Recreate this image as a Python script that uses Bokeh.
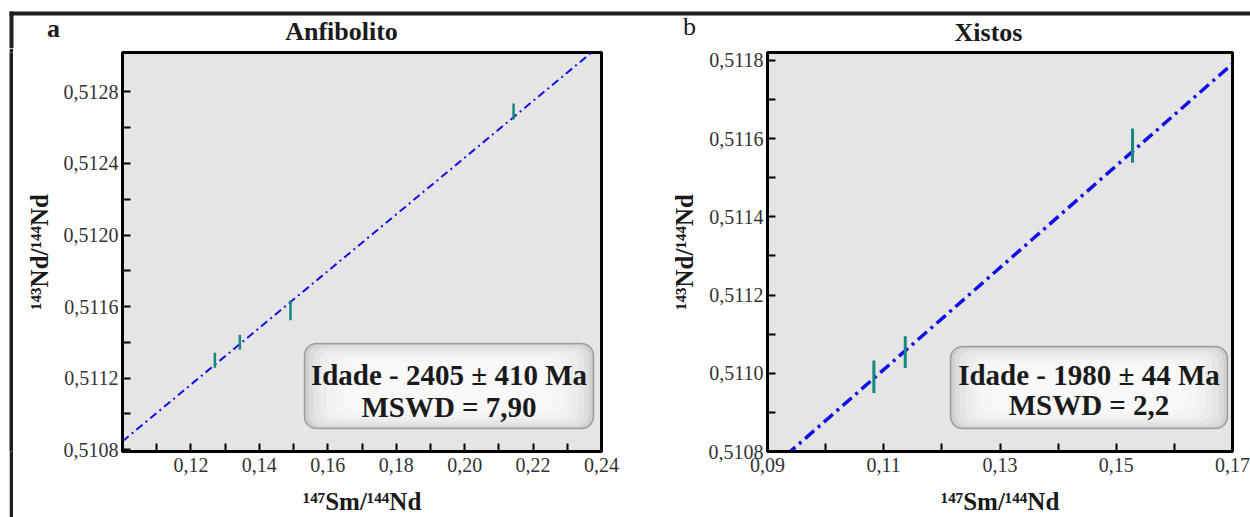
from bokeh.plotting import figure
from bokeh.layouts import row, column
from bokeh.models import (FixedTicker, CustomJSTickFormatter, Label, BoxAnnotation,
                          Range1d, Spacer)
from bokeh.core.properties import value
from bokeh.embed import file_html
from bokeh.resources import INLINE

# ---------------- data: panel a (Anfibolito) ----------------
a_sm_nd = [0.1270, 0.1343, 0.1491, 0.2143]
a_nd_nd = [0.51130, 0.51140, 0.51158, 0.51269]
a_err = [0.000042, 0.000042, 0.000056, 0.000045]
a_intercept = 0.509262
a_slope = 0.01585
a_xlim = [0.10, 0.24]
a_ylim = [0.51079, 0.51302]
a_xticks = [0.12, 0.14, 0.16, 0.18, 0.20, 0.22, 0.24]
a_xlabels = ["0,12", "0,14", "0,16", "0,18", "0,20", "0,22", "0,24"]
a_xminor = [0.11, 0.13, 0.15, 0.17, 0.19, 0.21, 0.23]
a_yticks = [0.5108, 0.5112, 0.5116, 0.5120, 0.5124, 0.5128]
a_ylabels = ["0,5108", "0,5112", "0,5116", "0,5120", "0,5124", "0,5128"]
a_yminor = [0.5110, 0.5114, 0.5118, 0.5122, 0.5126]
a_title = "Anfibolito"
a_tag = "a"
a_box = ["Idade - 2405 ± 410 Ma", "MSWD = 7,90"]

# ---------------- data: panel b (Xistos) ----------------
b_sm_nd = [0.1083, 0.1137, 0.1528]
b_nd_nd = [0.510991, 0.511054, 0.511582]
b_err = [0.0000415, 0.0000405, 0.000044]
b_intercept = 0.509576
b_slope = 0.01303
b_xlim = [0.09, 0.17]
b_ylim = [0.5108, 0.51182]
b_xticks = [0.09, 0.11, 0.13, 0.15, 0.17]
b_xlabels = ["0,09", "0,11", "0,13", "0,15", "0,17"]
b_xminor = [0.10, 0.12, 0.14, 0.16]
b_yticks = [0.5108, 0.5110, 0.5112, 0.5114, 0.5116, 0.5118]
b_ylabels = ["0,5108", "0,5110", "0,5112", "0,5114", "0,5116", "0,5118"]
b_yminor = [0.5109, 0.5111, 0.5113, 0.5115, 0.5117]
b_title = "Xistos"
b_tag = "b"
b_box = ["Idade - 1980 ± 44 Ma", "MSWD = 2,2"]

x_axis_label = "¹⁴⁷Sm/¹⁴⁴Nd"
y_axis_label = "¹⁴³Nd/¹⁴⁴Nd"

SERIF = "Liberation Serif"
INK = "#1a1a1a"
RULE = "#231d1d"
W, H = 1250, 517
TOP_H = 48      # height of the heading strip
RULE_X0, RULE_X1 = 9, 13   # left page rule
FMT_CODE = """
for (let i = 0; i < tvals.length; i++) {
  if (Math.abs(tvals[i] - tick) < 1e-9) { return tlabels[i]; }
}
return '';
"""


# heading strip: page rule, panel tags and titles
top = figure(width=W, height=TOP_H, output_backend="svg", toolbar_location=None,
             x_range=Range1d(0, W), y_range=Range1d(TOP_H, 0),
             x_axis_location=None, y_axis_location=None, min_border=0, title=None)
top.grid.visible = False
top.outline_line_color = None
top.background_fill_color = "white"
top.border_fill_color = "white"
top.quad(left=[RULE_X0, RULE_X0], right=[W, RULE_X1], top=[11, 11], bottom=[15, TOP_H],
         fill_color=RULE, line_color=None)
for txt, cx, cy, style in ((a_tag, 53, 28, "bold"), (a_title, 341, 31, "bold"),
                           (b_tag, 689, 26, "normal"), (b_title, 988, 32, "bold")):
    top.text(x=[cx], y=[cy], text=[txt], text_font=value(SERIF), text_font_style=style,
             text_font_size="26px", text_align="center", text_baseline="middle",
             text_color=INK)

# left page rule: a thin, fully dark figure
rule = figure(width=RULE_X1 - RULE_X0, height=H - TOP_H, output_backend="svg",
              toolbar_location=None, x_axis_location=None, y_axis_location=None,
              min_border=0, title=None)
rule.grid.visible = False
rule.outline_line_color = None
rule.background_fill_color = RULE
rule.border_fill_color = RULE
rule_pad = Spacer(width=RULE_X0, height=H - TOP_H)


def make_panel(xs, ys, errs, intercept, slope, xlim, ylim, xt, xl, xm, yt, yl, ym,
               box_lines, geo):
    width = geo["x1"] - geo["x0"]
    height = H - TOP_H
    p = figure(width=width, height=height, output_backend="svg", toolbar_location=None,
               x_range=Range1d(*xlim), y_range=Range1d(*ylim), title=None,
               min_border_left=geo["fl"] - geo["x0"], min_border_right=geo["x1"] - geo["fr"],
               min_border_top=geo["ft"] - TOP_H, min_border_bottom=H - geo["fb"])
    p.background_fill_color = "#e5e5e5"
    p.border_fill_color = "white"
    p.outline_line_color = "black"
    p.outline_line_width = 3
    p.grid.visible = False

    p.xaxis.ticker = FixedTicker(ticks=xt, minor_ticks=xm)
    p.yaxis.ticker = FixedTicker(ticks=yt, minor_ticks=ym)
    p.xaxis.formatter = CustomJSTickFormatter(args=dict(tvals=xt, tlabels=xl), code=FMT_CODE)
    p.yaxis.formatter = CustomJSTickFormatter(args=dict(tvals=yt, tlabels=yl), code=FMT_CODE)
    for ax in (p.xaxis, p.yaxis):
        ax.axis_line_color = "black"
        ax.axis_line_width = 3
        ax.major_tick_in = 8
        ax.major_tick_out = 0
        ax.minor_tick_in = 8
        ax.minor_tick_out = 0
        ax.major_tick_line_width = 2
        ax.minor_tick_line_width = 2
        ax.major_tick_line_color = "black"
        ax.minor_tick_line_color = "black"
        ax.major_label_text_font = SERIF
        ax.major_label_text_font_size = "20px"
        ax.major_label_text_color = "#333333"
        ax.axis_label_text_font = SERIF
        ax.axis_label_text_font_style = "bold"
        ax.axis_label_text_font_size = "25px"
        ax.axis_label_text_color = INK
    p.xaxis.major_label_standoff = 6
    p.yaxis.major_label_standoff = 4
    p.xaxis.axis_label = x_axis_label
    p.yaxis.axis_label = y_axis_label
    p.xaxis.axis_label_standoff = 13
    p.yaxis.axis_label_standoff = 8

    # isochron line
    lx = [xlim[0], xlim[1]]
    ly = [intercept + slope * v for v in lx]
    p.line(lx, ly, line_color="#1010e6", line_width=geo["lw"], line_dash=geo["dash"])

    # error bars
    y0 = [y - e for y, e in zip(ys, errs)]
    y1 = [y + e for y, e in zip(ys, errs)]
    p.segment(x0=xs, y0=y0, x1=xs, y1=y1, line_color="#17877f", line_width=geo["ew"])

    def sx(cx):
        return cx - geo["fl"]

    def sy(cy):
        return geo["fb"] - cy

    def sbox(l, r, t, b, **kw):
        return BoxAnnotation(left=sx(l), right=sx(r), top=sy(t), bottom=sy(b),
                             left_units="screen", right_units="screen",
                             top_units="screen", bottom_units="screen", **kw)

    # rounded, shaded text box
    bl, br, bt, bb = geo["box"]
    p.add_layout(sbox(bl, br, bt, bb, fill_color="#cfcfcf", fill_alpha=1,
                      line_color="#111111", line_width=1.5, border_radius=12))
    for inset in (4, 9, 15, 22, 30, 39):
        p.add_layout(sbox(bl + inset, br - inset, bt + inset * 0.45, bb - inset * 0.45,
                          fill_color="white", fill_alpha=0.28, line_alpha=0,
                          border_radius=12))
    bx = (bl + br) / 2
    for txt, cy in zip(box_lines, geo["box_text_y"]):
        p.add_layout(Label(x=sx(bx), y=sy(cy), x_units="screen", y_units="screen", text=txt,
                           text_font=SERIF, text_font_style="bold", text_font_size="29px",
                           text_align="center", text_baseline="middle", text_color=INK))
    return p


# geometry in page pixels: figure x-extent, plot frame edges, box, line styles
geo_a = dict(x0=RULE_X1, x1=625, fl=122, fr=601, ft=52, fb=451,
             lw=2, dash="8 4 2 4", ew=2.5,
             box=(304, 593, 343, 428), box_text_y=(374, 406))
geo_b = dict(x0=625, x1=W, fl=767, fr=1232, ft=52, fb=451,
             lw=3.5, dash="12 5 3 5", ew=3,
             box=(950, 1227, 346, 428), box_text_y=(374, 404))

pa = make_panel(a_sm_nd, a_nd_nd, a_err, a_intercept, a_slope, a_xlim, a_ylim,
                a_xticks, a_xlabels, a_xminor, a_yticks, a_ylabels, a_yminor, a_box, geo_a)
pb = make_panel(b_sm_nd, b_nd_nd, b_err, b_intercept, b_slope, b_xlim, b_ylim,
                b_xticks, b_xlabels, b_xminor, b_yticks, b_ylabels, b_yminor, b_box, geo_b)

layout = column(top, row(rule_pad, rule, pa, pb, spacing=0), spacing=0)
open("out.html", "w").write(file_html(layout, INLINE))
